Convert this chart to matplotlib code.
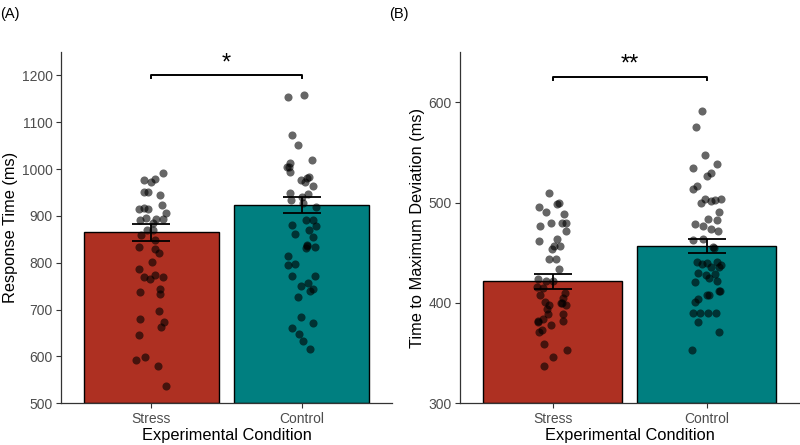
import numpy as np
import matplotlib
matplotlib.use("Agg")
import matplotlib.pyplot as plt

plt.rcParams['font.family'] = ['Liberation Sans', 'DejaVu Sans']

# conditions and bar colours
conditions = ["Stress", "Control"]
bar_colors = ["#AE3022", "#007F80"]

# panel A: response time (ms)
rt_means = [865, 924]
rt_se = [18, 17.5]
rt_stress = [992, 977, 972, 978, 952, 951, 945, 924, 915, 918, 906, 915, 891, 895, 893, 893,
             886, 870, 870, 859, 849, 834, 829, 820, 802, 787, 770, 773, 769, 765, 737, 743,
             733, 698, 680, 674, 662, 646, 592, 598, 580, 536]
rt_stress_jit = [0.078, -0.049, 0.0, 0.027, -0.051, -0.020, 0.058, 0.073, -0.084, -0.049, 0.095,
                 -0.022, -0.078, -0.033, 0.033, 0.078, 0.011, -0.027, 0.009, -0.067, 0.027, -0.082,
                 0.024, 0.051, 0.002, -0.084, -0.047, 0.027, 0.080, -0.007, -0.078, 0.058, 0.058,
                 0.051, -0.078, 0.082, 0.067, -0.082, -0.102, -0.040, 0.044, 0.095]
rt_control = [1155, 1158, 1072, 1052, 1020, 1014, 1004, 993, 1005, 984, 981, 977, 964, 973, 950,
              947, 941, 934, 927, 920, 881, 891, 891, 879, 862, 870, 856, 837, 834, 831, 836, 815,
              795, 798, 771, 771, 756, 751, 744, 739, 726, 685, 671, 660, 648, 632, 616]
rt_control_jit = [-0.093, 0.013, -0.062, -0.024, 0.071, -0.075, -0.098, -0.080, -0.084, 0.049,
                  0.033, -0.002, 0.075, 0.022, -0.080, 0.044, 0.004, -0.073, 0.009, 0.098, -0.062,
                  0.027, 0.075, 0.098, -0.042, 0.049, 0.075, 0.038, 0.086, 0.027, 0.033, -0.089,
                  -0.093, -0.042, -0.062, 0.089, 0.042, -0.002, 0.075, 0.058, -0.024, -0.002,
                  0.078, -0.062, -0.018, 0.011, 0.058]

# panel B: time to maximum deviation (ms)
md_means = [421.5, 456.8]
md_se = [7.5, 7.3]
md_stress = [510, 495.7, 490.4, 498.3, 499.7, 489, 477, 480, 480, 480, 471.4, 461.5, 463.5, 457,
             453.5, 457, 444.2, 444.2, 433.6, 424.3, 422, 422, 416.3, 414.6, 409.6, 408, 405.3,
             401.3, 398, 399.7, 397.7, 400.3, 393.7, 389, 389, 382.4, 383.7, 378, 382.4, 381.4,
             373, 371, 358.8, 353.2, 345.8, 337.2]
md_stress_jit = [-0.024, -0.091, -0.043, 0.026, 0.043, 0.076, -0.082, -0.013, 0.063, 0.087, 0.089,
                 -0.091, 0.026, 0.050, -0.004, 0.011, -0.022, 0.024, 0.043, -0.097, -0.043, 0.004,
                 -0.100, -0.061, 0.080, -0.082, 0.065, -0.050, -0.022, 0.058, 0.087, 0.052,
                 -0.039, -0.028, 0.065, -0.093, -0.065, -0.013, 0.065, -0.097, -0.071, -0.087,
                 -0.054, 0.091, 0.000, -0.056]
md_control = [591.4, 574.8, 547.2, 538.5, 534.2, 529.9, 526.6, 513.6, 517, 499.3, 503.3, 502,
              502.7, 504, 490.4, 478.4, 477, 483.7, 482.7, 474, 471.4, 462.8, 464.1, 455.5, 455.1,
              441.2, 438.5, 440.2, 441.2, 437.5, 436.2, 435.5, 430.2, 427.6, 429.2, 424.6, 421.3,
              421.9, 412.3, 411.6, 408.3, 408.3, 403.7, 401, 389.7, 389.7, 389.7, 389.7, 381.4,
              371.1, 353.2]
md_control_jit = [-0.028, -0.071, -0.013, 0.069, -0.087, 0.026, 0.004, -0.091, -0.061, -0.039,
                  -0.011, 0.028, 0.056, 0.091, 0.082, -0.078, -0.022, 0.009, 0.069, 0.030, 0.074,
                  -0.087, -0.026, 0.039, 0.048, -0.065, -0.030, 0.000, 0.069, 0.095, 0.030, 0.082,
                  -0.058, -0.004, 0.056, 0.017, -0.078, 0.069, 0.087, 0.078, 0.002, 0.017, -0.058,
                  -0.076, -0.091, -0.043, 0.009, 0.061, -0.054, 0.082, -0.097]


def draw_panel(ax, means, se, pts, jits, ylim, yticks, ylabel, bracket_y, tip, stars):
    x = np.arange(1, len(conditions) + 1)
    ax.bar(x, [m - ylim[0] for m in means], bottom=ylim[0], width=0.9, color=bar_colors,
           edgecolor="black", linewidth=1.0, zorder=1)
    for i in range(len(conditions)):
        ax.scatter(x[i] + np.array(jits[i]), pts[i], s=34, color="black", alpha=0.6,
                   linewidths=0, zorder=2)
    ax.errorbar(x, means, yerr=se, fmt="none", ecolor="black", elinewidth=1.3,
                capsize=14, capthick=1.3, zorder=3)
    # significance bracket
    ax.plot([x[0], x[0], x[1], x[1]], [bracket_y - tip, bracket_y, bracket_y, bracket_y - tip],
            color="black", linewidth=1.4, clip_on=False)
    ax.text(x.mean(), bracket_y + (ylim[1] - ylim[0]) * 0.004, stars, ha="center", va="bottom",
            fontsize=17)
    ax.set_xlim(0.4, 2.6)
    ax.set_ylim(*ylim)
    ax.set_xticks(x)
    ax.set_xticklabels(conditions)
    ax.set_yticks(yticks)
    ax.set_xlabel("Experimental Condition", fontsize=11.8, labelpad=2)
    ax.set_ylabel(ylabel, fontsize=11.8, labelpad=3)
    ax.tick_params(labelsize=10, colors="#333333", labelcolor="#4D4D4D", length=3.5, width=0.8,
                   pad=2.5)
    for s in ["top", "right"]:
        ax.spines[s].set_visible(False)
    for s in ["left", "bottom"]:
        ax.spines[s].set_color("#333333")
        ax.spines[s].set_linewidth(0.9)


fig = plt.figure(figsize=(8, 4.45), dpi=100)
axA = fig.add_axes([0.07625, 0.0937, 0.41375, 0.7894])
axB = fig.add_axes([0.5754, 0.0937, 0.4234, 0.7894])

draw_panel(axA, rt_means, rt_se, [rt_stress, rt_control], [rt_stress_jit, rt_control_jit],
           (500, 1250), range(500, 1201, 100), "Response Time (ms)", 1200, 6, "*")
draw_panel(axB, md_means, md_se, [md_stress, md_control], [md_stress_jit, md_control_jit],
           (300, 650), range(300, 601, 100), "Time to Maximum Deviation (ms)", 625, 2.5, "**")

fig.text(0.0, 0.985, "(A)", fontsize=10.5, ha="left", va="top")
fig.text(0.487, 0.985, "(B)", fontsize=10.5, ha="left", va="top")

fig.savefig("out.png", dpi=100)
